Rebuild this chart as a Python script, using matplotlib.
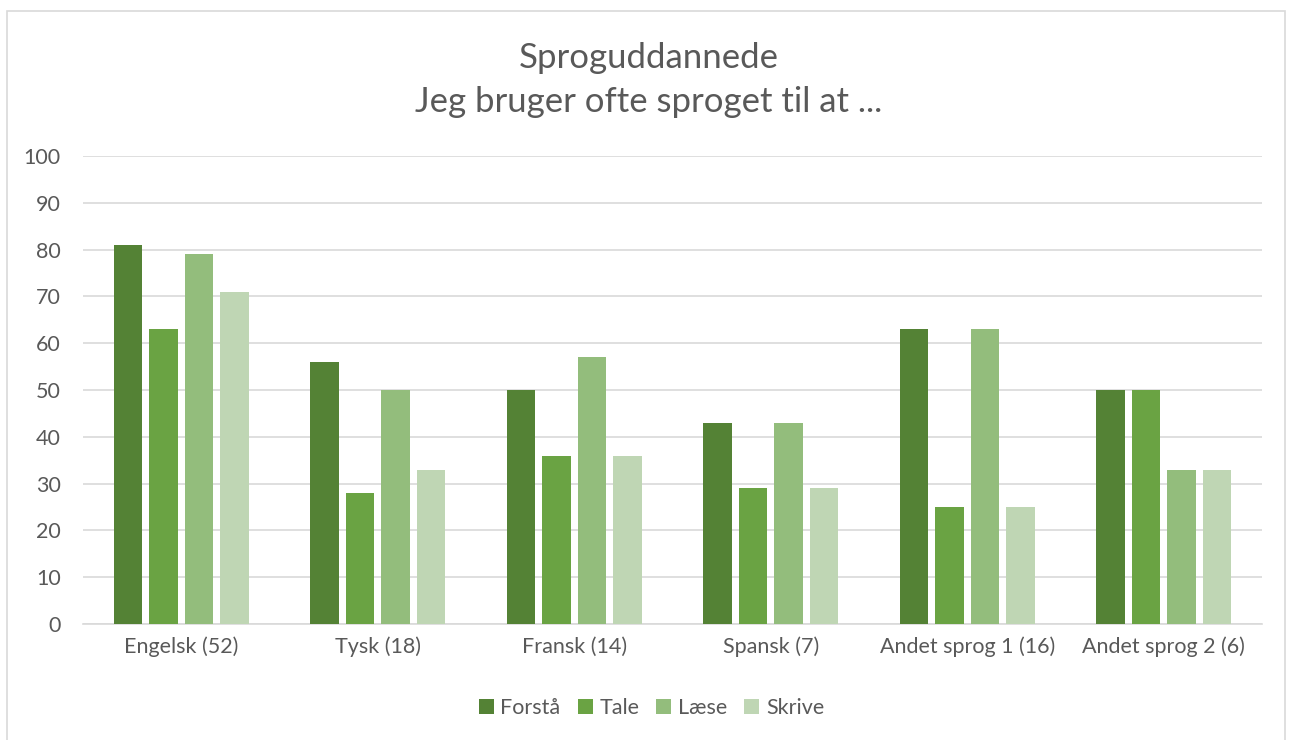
import numpy as np
import matplotlib.pyplot as plt
from matplotlib.patches import Rectangle

categories = ["Engelsk (52)", "Tysk (18)", "Fransk (14)", "Spansk (7)",
              "Andet sprog 1 (16)", "Andet sprog 2 (6)"]
series_names = ["Forstå", "Tale", "Læse", "Skrive"]
forsta = [81, 56, 50, 43, 63, 50]
tale = [63, 28, 36, 29, 25, 50]
laese = [79, 50, 57, 43, 63, 33]
skrive = [71, 33, 36, 29, 25, 33]
colors = ["#548235", "#6AA343", "#93BD7C", "#BFD6B4"]

plt.rcParams['font.family'] = ['Lato', 'DejaVu Sans']
TXT = "#595959"

fig = plt.figure(figsize=(12.9, 7.4), dpi=100)
fig.patches.append(Rectangle((7 / 1290, -0.01), 1278 / 1290, 1 - 11 / 740 + 0.01,
                             transform=fig.transFigure, fill=False,
                             edgecolor="#D9D9D9", linewidth=1.2))
ax = fig.add_axes([83 / 1290, 1 - 624 / 740, 1179 / 1290, 468 / 740])

x = np.arange(len(categories))
step = 0.18
width = 0.145
for j, (vals, name) in enumerate(zip([forsta, tale, laese, skrive], series_names)):
    ax.bar(x + (j - 1.5) * step, vals, width, color=colors[j], label=name, zorder=3)

ax.set_xlim(-0.5, len(categories) - 0.5)
ax.set_ylim(0, 100)
ax.set_yticks(range(0, 101, 10))
ax.set_xticks(x)
ax.set_xticklabels(categories)
ax.tick_params(axis='both', length=0, labelsize=15.5, colors=TXT)
ax.tick_params(axis='y', pad=16)
ax.tick_params(axis='x', pad=9)
ax.grid(axis='y', color="#D9D9D9", linewidth=1.2, zorder=0)
for s in ["top", "right", "left"]:
    ax.spines[s].set_visible(False)
ax.spines["bottom"].set_color("#D9D9D9")
ax.spines["bottom"].set_linewidth(1.2)

fig.text(0.503, 1 - 58 / 740, "Sproguddannede", ha='center', va='center',
         fontsize=25, color=TXT)
fig.text(0.503, 1 - 102 / 740, "Jeg bruger ofte sproget til at ...", ha='center',
         va='center', fontsize=25, color=TXT)

fig.legend(loc='center', bbox_to_anchor=(0.505, 1 - 708 / 740), ncol=4,
           frameon=False, fontsize=15.5, labelcolor=TXT, handlelength=0.7,
           handleheight=0.7, handletextpad=0.3, columnspacing=0.8)

fig.savefig("out.png", dpi=100)
